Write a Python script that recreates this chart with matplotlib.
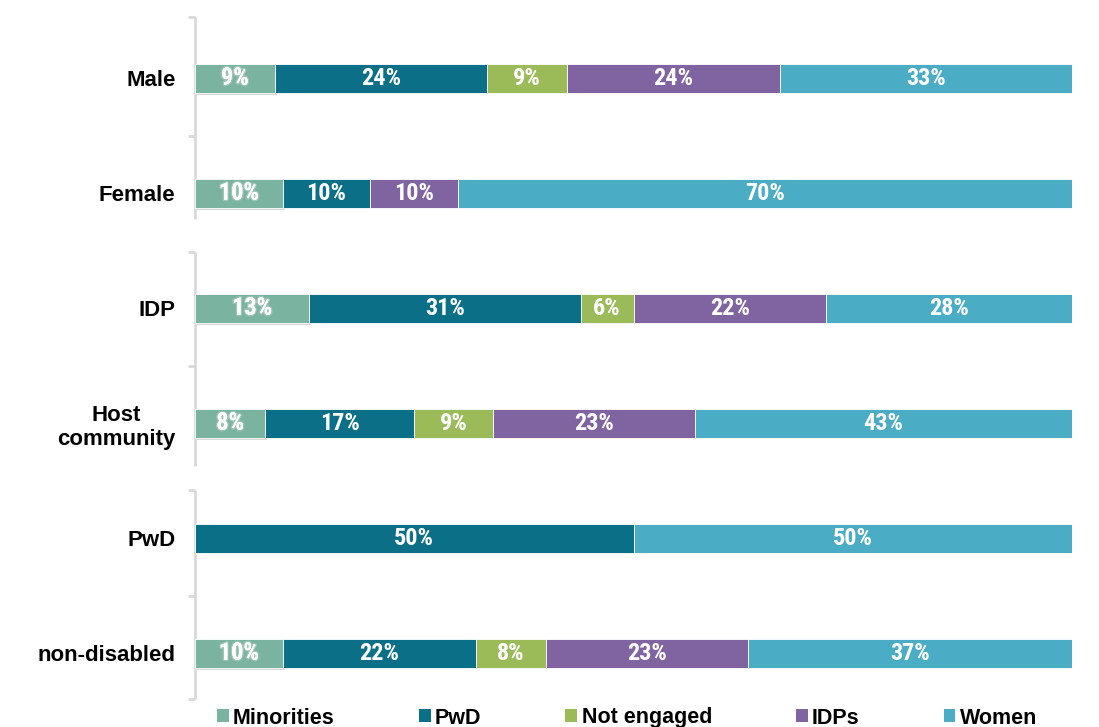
import matplotlib
matplotlib.use("Agg")
import matplotlib.pyplot as plt
import matplotlib.patheffects as pe
from matplotlib.patches import Patch
from matplotlib import font_manager as fm
import numpy as np

categories = ["Male", "Female", "IDP", "Host\ncommunity", "PwD", "non-disabled"]
series = ["Minorities", "PwD", "Not engaged", "IDPs", "Women"]
minorities  = [9, 10, 13, 8, 0, 10]
pwd         = [24, 10, 31, 17, 50, 22]
not_engaged = [9, 0, 6, 9, 0, 8]
idps        = [24, 10, 22, 23, 0, 23]
women       = [33, 70, 28, 43, 50, 37]
colors = ["#7AB3A0", "#0A6F87", "#9BBB59", "#8064A2", "#4BACC6"]

def pick(names):
    avail = {f.name for f in fm.fontManager.ttflist}
    for n in names:
        if n in avail:
            return n
    return "DejaVu Sans"

narrow = pick(["Liberation Sans Narrow", "Roboto Condensed", "DejaVu Sans"])
sans = pick(["Liberation Sans", "Arial", "DejaVu Sans"])

W, H = 1099, 727
fig = plt.figure(figsize=(W / 100, H / 100), dpi=100)
ax = fig.add_axes([195 / W, 1 - 699 / H, 877 / W, (699 - 17) / H])

data = np.array([minorities, pwd, not_engaged, idps, women], dtype=float)
totals = data.sum(axis=0)
pct = data / totals * 100
y = np.arange(len(categories))
left = np.zeros(len(categories))
bar_h = 0.25
for k, name in enumerate(series):
    bars = ax.barh(y, pct[k], left=left, height=bar_h, color=colors[k],
                   edgecolor="white", linewidth=0.6, label=name, zorder=2)
    if k == 0:
        for b in bars:
            b.set_path_effects([pe.SimplePatchShadow(offset=(1.5, -1.5), shadow_rgbFace="#999999", alpha=0.4), pe.Normal()])
    for i in range(len(categories)):
        v = data[k, i]
        if v > 0:
            txt = ax.text(left[i] + pct[k, i] / 2, y[i], f"{int(v)}%", ha="center", va="center",
                          color="white", fontsize=17.5, fontweight="bold", family=narrow, zorder=3)
            if k == 0:
                txt.set_path_effects([pe.withStroke(linewidth=2, foreground="#9fc5b8"), pe.Normal()])
    left += pct[k]

ax.set_xlim(0, 100)
ax.set_ylim(5.398, -0.532)
for s in ax.spines.values():
    s.set_visible(False)
ax.set_xticks([])
ax.set_yticks(y)
ax.set_yticklabels(categories, fontsize=16, fontweight="bold", family=sans, multialignment="center")
ax.tick_params(axis="y", length=0, pad=14)

# group bracket axis lines
trans = ax.get_yaxis_transform()
groups = [(-0.532, 1.224, [-0.532, 0.5]), (1.511, 3.37, [1.511, 2.5]), (3.58, 5.398, [3.58, 4.5, 5.398])]
lc = "#D9D9D9"
tl = 7 / 877
for top, bot, ticks in groups:
    ax.plot([0, 0], [top, bot], color=lc, lw=2, transform=trans, clip_on=False, zorder=1, solid_capstyle="butt")
    for t in ticks:
        ax.plot([-tl, 0], [t, t], color=lc, lw=2, transform=trans, clip_on=False, zorder=1, solid_capstyle="butt")

handles = [Patch(facecolor=c, edgecolor="none", label=n) for c, n in zip(colors, series)]
fig.legend(handles=handles, loc="center", bbox_to_anchor=(627 / W, 1 - 718 / H), ncol=5, frameon=False,
           prop={"family": sans, "weight": "bold", "size": 15.5},
           handlelength=0.55, handleheight=0.55, handletextpad=0.2, columnspacing=3.9, borderpad=0, borderaxespad=0)

fig.savefig("out.png", dpi=100)
